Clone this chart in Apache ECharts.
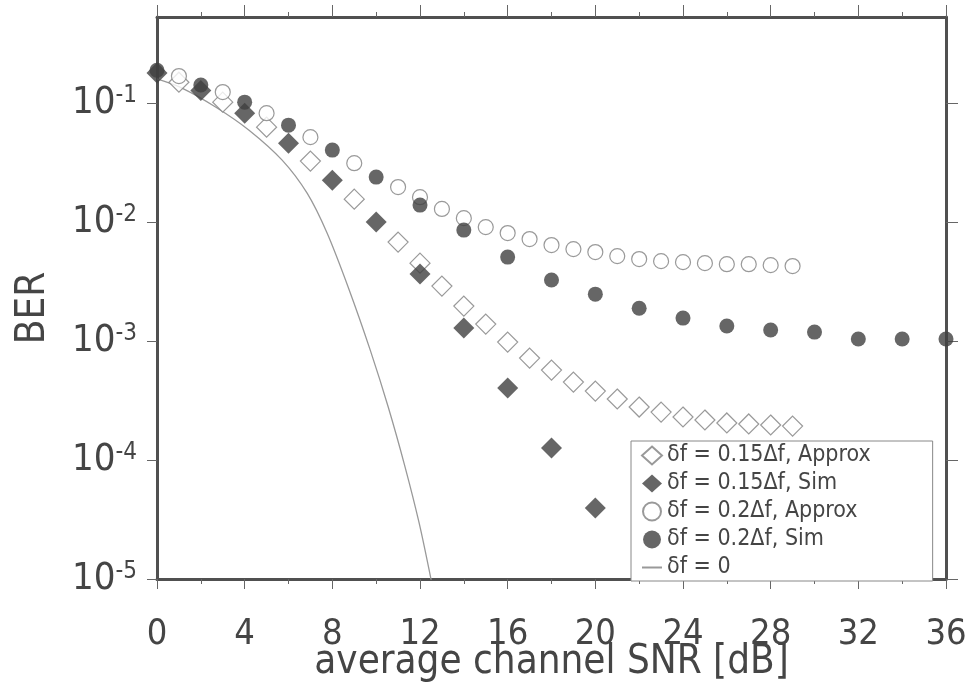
<!DOCTYPE html>
<html>
<head>
<meta charset="utf-8">
<script src="https://cdn.jsdelivr.net/npm/echarts@6/dist/echarts.min.js"></script>
<style>
html,body{margin:0;padding:0;background:#fff;}
#chart{width:971px;height:683px;}
</style>
</head>
<body>
<div id="chart"></div>
<script>
// ---- data ----
const snrApprox = [1,3,5,7,9,11,12,13,14,15,16,17,18,19,20,21,22,23,24,25,26,27,28,29];
const berApprox015 = [0.150,0.102,0.0628,0.0326,0.0156,0.00679,0.00452,0.00290,0.00197,0.00139,0.000981,0.000720,0.000570,0.000452,0.000380,0.000326,0.000279,0.000253,0.000230,0.000217,0.000205,0.000201,0.000197,0.000193];
const berApprox02 = [0.169,0.124,0.0824,0.0518,0.0313,0.0197,0.0162,0.0129,0.0108,0.00908,0.00809,0.00720,0.00641,0.00593,0.00560,0.00518,0.00489,0.00470,0.00461,0.00452,0.00443,0.00443,0.00435,0.00427];
const snrSim015 = [0,2,4,6,8,10,12,14,16,18,20];
const berSim015 = [0.179,0.128,0.0824,0.0461,0.0225,0.0100,0.00366,0.00129,0.000403,0.000126,0.0000395];
const snrSim02 = [0,2,4,6,8,10,12,14,16,18,20,22,24,26,28,30,32,34,36];
const berSim02 = [0.189,0.142,0.102,0.0653,0.0403,0.0239,0.0139,0.00857,0.00508,0.00326,0.00248,0.00189,0.00156,0.00134,0.00124,0.00119,0.00104,0.00104,0.00104];
const snrZero = [0,1.14,2.69,4.20,5.71,6.85,7.76,8.77,9.73,10.55,11.32,11.96,12.51];
const berZero = [0.160,0.134,0.0925,0.0593,0.0332,0.0175,0.00809,0.00269,0.000839,0.000279,0.0000873,0.0000296,0.0000098];
const xTicks = [0,4,8,12,16,20,24,28,32,36];
const yTicks = [1e-5,1e-4,1e-3,1e-2,1e-1];
const seriesNames = ['δf = 0.15Δf, Approx','δf = 0.15Δf, Sim','δf = 0.2Δf, Approx','δf = 0.2Δf, Sim','δf = 0'];

const pairs = (xs, ys) => xs.map((x, i) => [x, ys[i]]);
const FONT = "'Liberation Sans Narrow','Arial Narrow','DejaVu Sans Condensed','Liberation Sans',sans-serif";
const TXT = '#454545';
const FRAME = '#505050';

const chart = echarts.init(document.getElementById('chart'), null, {renderer:'canvas'});

const yLabelFmt = v => {
  const l = Math.log10(v);
  const e = Math.round(l);
  if (Math.abs(l - e) > 1e-6) return '';
  return '{b|10}{s|' + e + '}';
};

const hidden = {color:'rgba(0,0,0,0)', borderColor:'rgba(0,0,0,0)', borderWidth:0, opacity:0};

const option = {
  backgroundColor: '#fff',
  animation: false,
  grid: {left:157, right:25, top:17, bottom:104, containLabel:false, outerBoundsMode:'none'},
  legend: {
    orient:'vertical', left:631, top:441,
    data: [
      {name:seriesNames[0]},
      {name:seriesNames[1]},
      {name:seriesNames[2]},
      {name:seriesNames[3]},
      {name:seriesNames[4], itemStyle:hidden}
    ],
    itemWidth:20, itemHeight:18, itemGap:5,
    padding:[3,62,2,10],
    backgroundColor:'#fff', borderColor:'#888', borderWidth:1,
    textStyle:{fontFamily:FONT, fontSize:23, lineHeight:23, color:TXT, padding:[0,0,0,0]},
    selectedMode:false
  },
  xAxis: [{
    type:'value', min:0, max:36, interval:4,
    position:'bottom',
    axisLine:{show:true, onZero:false, lineStyle:{color:FRAME, width:3}},
    axisTick:{show:true, inside:false, length:10, lineStyle:{color:'#666', width:1}},
    minorTick:{show:true, splitNumber:2, length:5, lineStyle:{color:'#666', width:1}},
    splitLine:{show:false},
    axisLabel:{fontFamily:FONT, fontSize:36, color:TXT, margin:38},
    name:'average channel SNR [dB]', nameLocation:'middle', nameGap:64, nameMoveOverlap:false,
    nameTextStyle:{fontFamily:FONT, fontSize:40, color:TXT}
  },{
    type:'value', min:0, max:36, interval:4,
    position:'top',
    axisLine:{show:true, onZero:false, lineStyle:{color:FRAME, width:3}},
    axisTick:{show:true, inside:false, length:12, lineStyle:{color:'#666', width:1}},
    minorTick:{show:true, splitNumber:2, length:5, lineStyle:{color:'#666', width:1}},
    splitLine:{show:false},
    axisLabel:{show:false}
  }],
  yAxis: [{
    type:'log', logBase:10, min:1e-5, max:0.53,
    position:'left',
    axisLine:{show:true, onZero:false, lineStyle:{color:FRAME, width:3}},
    axisTick:{show:true, inside:false, length:10, customValues:yTicks, lineStyle:{color:'#666', width:1}},
    minorTick:{show:false},
    splitLine:{show:false},
    axisLabel:{
      customValues:yTicks,
      formatter:yLabelFmt, margin:20,
      rich:{
        b:{fontFamily:FONT, fontSize:38, color:TXT},
        s:{fontFamily:FONT, fontSize:24, color:TXT, verticalAlign:'top'}
      }
    },
    name:'BER', nameLocation:'middle', nameGap:103, nameMoveOverlap:false,
    nameTextStyle:{fontFamily:FONT, fontSize:40, color:TXT, padding:[0,20,0,0]}
  },{
    type:'log', logBase:10, min:1e-5, max:0.53,
    position:'right',
    axisLine:{show:true, onZero:false, lineStyle:{color:FRAME, width:3}},
    axisTick:{show:true, inside:false, length:12, customValues:yTicks, lineStyle:{color:'#666', width:1}},
    splitLine:{show:false},
    axisLabel:{show:false}
  }],
  series: [
    {
      name:seriesNames[0], type:'scatter', xAxisIndex:0, yAxisIndex:0,
      symbol:'diamond', symbolSize:20, z:3,
      itemStyle:{color:'#fff', borderColor:'#808080', borderWidth:1.2},
      data:pairs(snrApprox, berApprox015)
    },
    {
      name:seriesNames[1], type:'scatter', xAxisIndex:0, yAxisIndex:0,
      symbol:'diamond', symbolSize:21, z:5,
      itemStyle:{color:'#404040', borderColor:'#404040', borderWidth:0},
      data:pairs(snrSim015, berSim015)
    },
    {
      name:seriesNames[2], type:'scatter', xAxisIndex:0, yAxisIndex:0,
      symbol:'circle', symbolSize:15, z:3,
      itemStyle:{color:'#fff', borderColor:'#808080', borderWidth:1.2},
      data:pairs(snrApprox, berApprox02)
    },
    {
      name:seriesNames[3], type:'scatter', xAxisIndex:0, yAxisIndex:0,
      symbol:'circle', symbolSize:15, z:5,
      itemStyle:{color:'#404040', borderColor:'#404040', borderWidth:0},
      data:pairs(snrSim02, berSim02)
    },
    {
      name:seriesNames[4], type:'line', xAxisIndex:0, yAxisIndex:0,
      smooth:0.3, showSymbol:false, symbol:'none', z:2,
      lineStyle:{color:'#999', width:1.3},
      itemStyle:{color:'#999'},
      data:pairs(snrZero, berZero)
    }
  ]
};
chart.setOption(option);
</script>
</body>
</html>
